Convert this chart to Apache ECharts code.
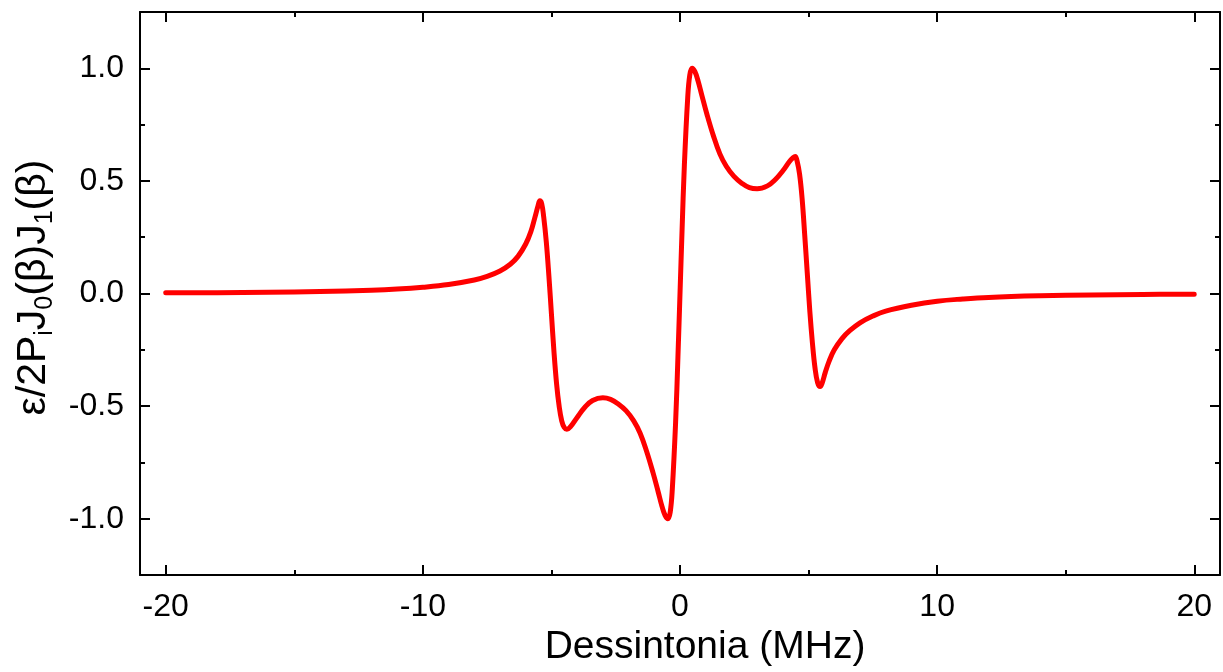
<!DOCTYPE html>
<html>
<head>
<meta charset="utf-8">
<script src="https://cdn.jsdelivr.net/npm/echarts@6/dist/echarts.min.js"></script>
<style>
html,body{margin:0;padding:0;background:#fff;}
#chart{width:1223px;height:672px;}
</style>
</head>
<body>
<div id="chart"></div>
<script>
// Detuning (MHz)
const detuning = [
  -20, -18, -16, -14, -12, -11, -10, -9, -8, -7.5, -7.0, -6.6, -6.3, -6.0, -5.8, -5.65, -5.52, -5.45, -5.38, -5.3,
  -5.2, -5.1, -5.0, -4.9, -4.8, -4.7, -4.6, -4.5, -4.4, -4.25, -4.0, -3.7, -3.4, -3.0, -2.7, -2.4, -2.1, -1.8, -1.55, -1.3,
  -1.05, -0.85, -0.7, -0.58, -0.47, -0.38, -0.3, -0.17, -0.08, 0, 0.08, 0.17, 0.3, 0.38, 0.47, 0.58, 0.7, 0.85, 1.05, 1.3,
  1.55, 1.8, 2.1, 2.4, 2.7, 3.0, 3.4, 3.7, 4.0, 4.25, 4.4, 4.48, 4.55, 4.65, 4.75, 4.85, 4.95, 5.05, 5.15, 5.25,
  5.35, 5.45, 5.52, 5.65, 5.8, 6.0, 6.3, 6.6, 7.0, 7.5, 8.0, 9, 10, 11, 12, 14, 16, 18, 20
];
// Normalized error signal
const errorSignal = [
  0.003, 0.004, 0.006, 0.009, 0.015, 0.02, 0.028, 0.04, 0.06, 0.076, 0.1, 0.13, 0.165, 0.22, 0.275, 0.335, 0.39, 0.412, 0.40, 0.34,
  0.23, 0.08, -0.09, -0.26, -0.40, -0.50, -0.565, -0.595, -0.603, -0.59, -0.55, -0.505, -0.475, -0.463, -0.47, -0.49, -0.52, -0.565, -0.62, -0.7,
  -0.795, -0.88, -0.945, -0.985, -1.0, -0.97, -0.87, -0.57, -0.28, 0, 0.28, 0.57, 0.87, 0.97, 1.0, 0.985, 0.945, 0.88, 0.795, 0.7,
  0.62, 0.565, 0.52, 0.49, 0.47, 0.465, 0.478, 0.505, 0.545, 0.585, 0.603, 0.608, 0.59, 0.53, 0.42, 0.26, 0.09, -0.08, -0.22, -0.33,
  -0.395, -0.413, -0.40, -0.35, -0.3, -0.25, -0.2, -0.165, -0.13, -0.1, -0.078, -0.052, -0.034, -0.024, -0.017, -0.01, -0.006, -0.004, -0.003
];
const xMajorTicks = [-20, -10, 0, 10, 20];
const xMinorTicks = [-15, -5, 5, 15];
const yMajorTicks = [-1, -0.5, 0, 0.5, 1];
const yMinorTicks = [-0.75, -0.25, 0.25, 0.75];

const FONT = "'Liberation Sans', Arial, sans-serif";
const BLACK = '#000';

function xAx(pos, ticks, len, showLine, withLabels) {
  const a = {
    type: 'value', position: pos, min: -21, max: 21,
    axisLine: {show: showLine, onZero: false, lineStyle: {color: BLACK, width: 2}},
    axisTick: {show: true, inside: true, length: len, customValues: ticks, lineStyle: {color: BLACK, width: 2}},
    axisLabel: {show: withLabels, customValues: ticks, fontSize: 32, color: BLACK, fontFamily: FONT, margin: 16,
      formatter: v => String(v)},
    splitLine: {show: false}
  };
  if (withLabels) {
    a.name = 'Dessintonia (MHz)';
    a.nameLocation = 'middle';
    a.nameGap = 50;
    a.nameTextStyle = {fontSize: 39, color: BLACK, fontFamily: FONT, padding: [0, 0, 0, 50]};
  }
  return a;
}
function yAx(pos, ticks, len, showLine, withLabels) {
  const a = {
    type: 'value', position: pos, min: -1.25, max: 1.25,
    axisLine: {show: showLine, onZero: false, lineStyle: {color: BLACK, width: 2}},
    axisTick: {show: true, inside: true, length: len, customValues: ticks, lineStyle: {color: BLACK, width: 2}},
    axisLabel: {show: withLabels, customValues: ticks, fontSize: 32, color: BLACK, fontFamily: FONT, margin: 16,
      formatter: v => v.toFixed(1)},
    splitLine: {show: false}
  };
  if (withLabels) {
    a.name = '{a|ε/2P}{b|i}{a|J}{b|0}{a|(β)J}{b|1}{a|(β)}';
    a.nameLocation = 'middle';
    a.nameRotate = 90;
    a.nameGap = 80;
    a.nameTextStyle = {
      color: BLACK, fontFamily: FONT, padding: [0, 0, 0, 12],
      rich: {
        a: {fontSize: 41, color: BLACK, fontFamily: FONT, lineHeight: 48},
        b: {fontSize: 25, color: BLACK, fontFamily: FONT, lineHeight: 48, verticalAlign: 'bottom'}
      }
    };
  }
  return a;
}

const chart = echarts.init(document.getElementById('chart'), null, {renderer: 'canvas'});
chart.setOption({
  animation: false,
  backgroundColor: '#fff',
  grid: {left: 140, right: 3, top: 12, bottom: 94, containLabel: false},
  xAxis: [
    xAx('bottom', xMajorTicks, 10, true, true),
    xAx('bottom', xMinorTicks, 5, false, false),
    xAx('top', xMajorTicks, 10, true, false),
    xAx('top', xMinorTicks, 5, false, false)
  ],
  yAxis: [
    yAx('left', yMajorTicks, 10, true, true),
    yAx('left', yMinorTicks, 5, false, false),
    yAx('right', yMajorTicks, 10, true, false),
    yAx('right', yMinorTicks, 5, false, false)
  ],
  series: [{
    type: 'line',
    xAxisIndex: 0, yAxisIndex: 0,
    data: detuning.map((x, i) => [x, errorSignal[i]]),
    showSymbol: false,
    smooth: 0.4,
    lineStyle: {color: '#ff0000', width: 5, cap: 'round', join: 'round'},
    itemStyle: {color: '#ff0000'}
  }]
});
</script>
</body>
</html>
